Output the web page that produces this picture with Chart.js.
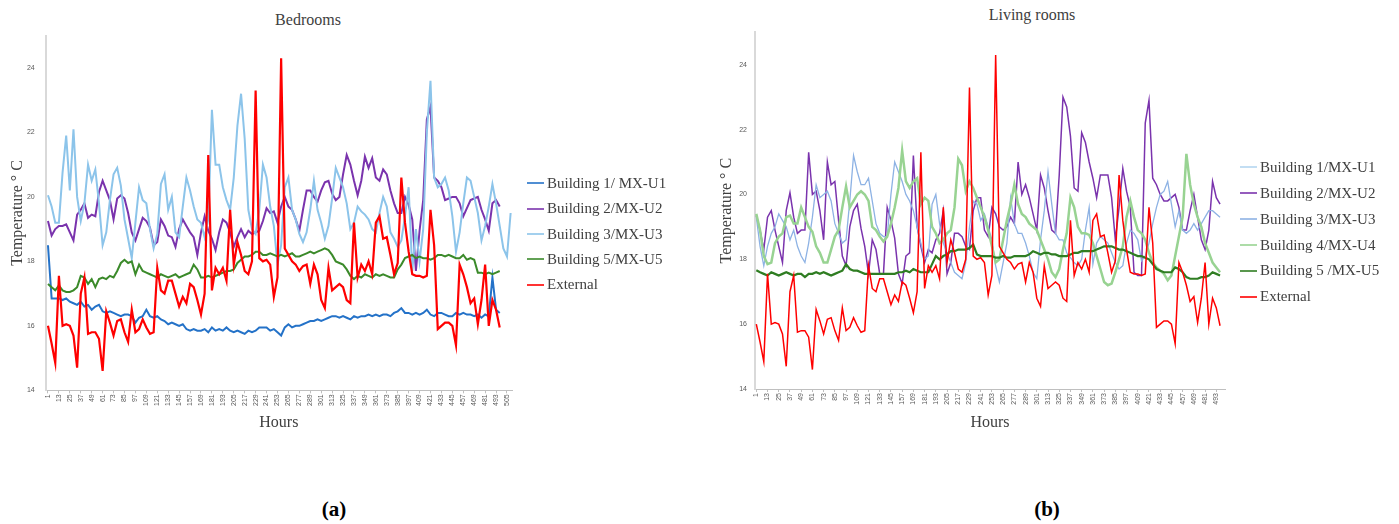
<!DOCTYPE html>
<html>
<head>
<meta charset="utf-8">
<script src="https://cdn.jsdelivr.net/npm/chart.js@4.4.1/dist/chart.umd.min.js"></script>
<style>
  body { margin: 0; width: 1399px; height: 524px; background: #fff; position: relative; overflow: hidden; }
  .box { position: absolute; top: 0; height: 440px; }
  .ttl { position: absolute; font: 16px "Liberation Serif", serif; color: #404040; transform: translateX(-50%); white-space: nowrap; }
  .panel { position: absolute; font: bold 21px "Liberation Serif", serif; color: #000; transform: translateX(-50%); }
  .legend { position: absolute; font: 15px "Liberation Serif", serif; color: #404040; }
  .legend .item { display: flex; align-items: center; white-space: nowrap; }
  .legend .swatch { display: inline-block; width: 17px; height: 0; border-top: 2px solid; margin-right: 3px; opacity: 0.8; }
</style>
</head>
<body>
<div class="ttl" style="left:308px; top:11px;">Bedrooms</div>
<div class="ttl" style="left:1032px; top:6px;">Living rooms</div>
<div class="box" style="left:0; width:700px;"><canvas id="bedrooms"></canvas></div>
<div class="box" style="left:700px; width:699px;"><canvas id="living"></canvas></div>
<div class="legend" id="bedLegend" style="left:527px; top:170.6px;"></div>
<div class="legend" id="livLegend" style="left:1240px; top:154.4px;"></div>
<div class="panel" style="left:334px; top:497px;">(a)</div>
<div class="panel" style="left:1047px; top:497px;">(b)</div>

<script>
// hours sampled every 4 h
const hours = [
  1, 5, 9, 13, 17, 21, 25, 29, 33, 37, 41, 45, 49, 53, 57, 61,
  65, 69, 73, 77, 81, 85, 89, 93, 97, 101, 105, 109, 113, 117, 121, 125,
  129, 133, 137, 141, 145, 149, 153, 157, 161, 165, 169, 173, 177, 181, 185, 189,
  193, 197, 201, 205, 209, 213, 217, 221, 225, 229, 233, 237, 241, 245, 249, 253,
  257, 261, 265, 269, 273, 277, 281, 285, 289, 293, 297, 301, 305, 309, 313, 317,
  321, 325, 329, 333, 337, 341, 345, 349, 353, 357, 361, 365, 369, 373, 377, 381,
  385, 389, 393, 397, 401, 405, 409, 413, 417, 421, 425, 429, 433, 437, 441, 445,
  449, 453, 457, 461, 465, 469, 473, 477, 481, 485, 489, 493, 497, 501, 505, 509
];

const bedTicks = [1, 13, 25, 37, 49, 61, 73, 85, 97, 109, 121, 133, 145, 157, 169, 181, 193, 205, 217, 229, 241, 253,
  265, 277, 289, 301, 313, 325, 337, 349, 361, 373, 385, 397, 409, 421, 433, 445, 457, 469, 481, 493, 505];
const livTicks = [1, 13, 25, 37, 49, 61, 73, 85, 97, 109, 121, 133, 145, 157, 169, 181, 193, 205, 217, 229, 241, 253,
  265, 277, 289, 301, 313, 325, 337, 349, 361, 373, 385, 397, 409, 421, 433, 445, 457, 469, 481, 493];
const tempTicks = [14, 16, 18, 20, 22, 24];

// Bedrooms (°C)
const bedB1 = [
  18.5, 16.85, 16.85, 16.85, 16.8, 16.85, 16.75, 16.7, 16.65, 16.75, 16.6, 16.65,
  16.5, 16.6, 16.65, 16.45, 16.4, 16.45, 16.4, 16.35, 16.3, 16.35, 16.35, 16.3,
  16.1, 16.25, 16.3, 16.5, 16.3, 16.25, 16.3, 16.2, 16.15, 16.05, 16.1, 16.05,
  16.0, 16.05, 15.9, 15.85, 15.9, 15.85, 15.85, 15.9, 15.8, 15.95, 15.85, 15.9,
  15.85, 15.95, 15.85, 15.8, 15.85, 15.8, 15.75, 15.85, 15.8, 15.85, 15.95, 15.95,
  15.95, 15.85, 15.9, 15.8, 15.7, 15.95, 16.05, 15.95, 16.0, 16.0, 16.05, 16.1,
  16.15, 16.15, 16.2, 16.15, 16.2, 16.25, 16.3, 16.3, 16.25, 16.3, 16.25, 16.2,
  16.3, 16.25, 16.3, 16.3, 16.35, 16.3, 16.35, 16.3, 16.35, 16.35, 16.3, 16.4,
  16.45, 16.55, 16.4, 16.4, 16.35, 16.4, 16.35, 16.4, 16.5, 16.35, 16.3, 16.4,
  16.4, 16.35, 16.3, 16.3, 16.4, 16.35, 16.4, 16.35, 16.35, 16.3, 16.35, 16.25,
  16.35, 16.3, 17.5, 16.5, 16.4, null, null, null
];
const bedB2 = [
  19.25, 18.8, 19.0, 19.1, 19.1, 19.15, 18.9, 18.65, 19.45, 19.6, 19.8, 19.35,
  19.45, 19.4, 20.15, 20.5, 20.2, 19.9, 19.3, 19.95, 20.05, 19.95, 19.5, 18.9,
  18.65, 19.0, 19.35, 19.25, 19.05, 18.5, 18.6, 19.3, 19.1, 18.8, 18.75, 18.45,
  19.0, 19.3, 19.1, 18.9, 18.75, 18.2, 18.9, 19.4, 18.95, 18.7, 18.35, 18.9,
  19.3, 19.2, 18.9, 18.45, 18.75, 19.0, 18.75, 18.95, 18.85, 18.9, 18.95, 19.25,
  19.65, 19.5, 19.55, 19.2, 19.7, 20.0, 19.7, 19.6, 19.3, 18.95, 19.6, 20.2,
  20.2, 20.0, 19.85, 20.2, 20.45, 20.5, 20.1, 19.9, 20.0, 20.7, 21.3, 21.0,
  20.5, 20.05, 20.5, 21.25, 20.9, 21.2, 20.6, 20.5, 20.85, 20.7, 20.2, 19.8,
  19.5, 19.5, 20.0, 19.75, 19.3, 17.7, 18.95, 19.9, 22.4, 22.8, 20.6, 20.5,
  20.3, 19.9, 19.95, 20.0, 20.0, 19.8, 19.4, 19.65, 19.9, 19.95, 20.0, 19.6,
  19.3, 18.95, 19.8, 19.9, 19.7, null, null, null
];
const bedB3 = [
  20.05, 19.7, 19.2, 19.2, 20.75, 21.9, 20.2, 22.1, 20.0, 19.25, 19.8, 21.0,
  20.5, 20.85, 19.8, 18.5, 18.9, 19.9, 20.7, 20.9, 20.35, 19.3, 18.7, 18.1,
  19.2, 20.3, 19.9, 19.8, 19.0, 18.4, 18.85, 20.4, 20.7, 19.6, 20.0, 18.9,
  18.75, 19.7, 20.6, 20.2, 19.7, 19.3, 19.2, 18.75, 19.3, 22.7, 21.0, 21.0,
  20.3, 19.9, 19.6, 20.6, 22.2, 23.2, 21.8, 19.6, 19.0, 18.85, 19.6, 21.0,
  20.6, 19.7, 19.1, 17.9, 18.5, 20.3, 20.6, 19.6, 19.3, 18.85, 18.6, 18.9,
  19.6, 20.5, 19.6, 19.2, 18.7, 19.1, 19.95, 20.9, 20.6, 20.3, 19.8, 19.0,
  19.2, 19.7, 19.55, 19.45, 19.3, 19.0, 18.9, 19.5, 20.0, 19.7, 18.9, 18.7,
  18.45, 18.65, 19.4, 20.3, 17.7, 19.0, 18.0, 19.0, 22.0, 23.6, 20.6, 20.3,
  20.4, 20.6, 20.2, 19.4, 18.3, 18.9, 19.8, 20.6, 20.5, 20.0, 19.5, 18.65,
  19.1, 19.7, 20.4, 19.8, 19.1, 18.4, 18.15, 19.5
];
const bedB5 = [
  17.3, 17.2, 17.1, 17.25, 17.1, 17.05, 17.05, 17.1, 17.2, 17.55, 17.5, 17.3,
  17.45, 17.2, 17.45, 17.5, 17.45, 17.55, 17.5, 17.7, 17.95, 18.05, 17.95, 18.0,
  17.6, 17.9, 17.7, 17.65, 17.6, 17.55, 17.5, 17.6, 17.55, 17.5, 17.55, 17.6,
  17.5, 17.55, 17.6, 17.65, 17.9, 17.75, 17.5, 17.5, 17.55, 17.5, 17.55, 17.6,
  17.65, 17.7, 17.7, 17.75, 17.95, 18.05, 18.15, 18.15, 18.2, 18.3, 18.3, 18.2,
  18.2, 18.25, 18.2, 18.15, 18.2, 18.15, 18.2, 18.25, 18.15, 18.15, 18.2, 18.25,
  18.3, 18.25, 18.3, 18.35, 18.4, 18.35, 18.2, 18.0, 17.95, 17.9, 17.75, 17.55,
  17.45, 17.55, 17.5, 17.6, 17.55, 17.5, 17.6, 17.55, 17.6, 17.55, 17.5, 17.5,
  17.75, 17.9, 18.1, 18.15, 18.2, 18.1, 18.15, 18.1, 18.1, 18.05, 18.1, 18.2,
  18.2, 18.15, 18.2, 18.15, 18.1, 18.1, 18.2, 18.05, 18.1, 18.05, 17.65, 17.65,
  17.6, 17.65, 17.6, 17.65, 17.7, null, null, null
];
// outdoor temperature, same record in both panels
const external = [
  16.0, 15.45, 14.85, 17.55, 16.0, 16.05, 16.0, 15.7, 14.7, 17.0, 17.5, 15.75,
  15.8, 15.8, 15.6, 14.6, 16.45, 16.1, 15.7, 16.15, 16.2, 15.8, 15.5, 16.5,
  15.8, 15.9, 16.2, 15.95, 15.75, 15.8, 17.8, 17.1, 17.0, 17.4, 17.4, 17.0,
  16.6, 16.9, 16.7, 17.3, 17.2, 16.8, 16.35, 17.0, 21.3, 17.1, 17.8, 17.6,
  17.8, 17.4, 19.6, 17.9, 18.6, 18.2, 17.7, 17.6, 18.0, 23.3, 18.1, 18.0,
  18.05, 17.9, 16.9, 17.5, 24.3, 18.4, 18.2, 18.0, 17.9, 17.7, 17.85, 17.9,
  17.3, 17.9, 17.6, 16.8, 16.55, 17.8, 17.1, 17.2, 17.3, 17.2, 16.8, 16.7,
  19.2, 17.5, 17.9, 17.7, 18.0, 17.6, 19.2, 19.4, 18.7, 18.75, 18.2, 17.6,
  17.95, 20.6, 19.2, 18.3, 17.6, 17.55, 17.55, 17.5, 17.55, 19.6, 18.5, 15.9,
  16.0, 16.1, 16.1, 16.0, 15.4, 17.9, 17.6, 17.2, 16.7, 16.85, 16.05, 16.8,
  17.9, 16.0, 16.8, 16.5, 15.95, null, null, null
];

// Living rooms (°C), hours 1..497
const livB1 = []; // listed in the legend, no visible trace
const livB2 = [
  19.35, 18.9, 18.3, 19.3, 19.5, 18.9, 18.4, 17.9, 19.5, 20.05, 19.3, 18.8,
  18.9, 18.9, 21.3, 20.0, 20.1, 19.5, 18.6, 21.0, 20.3, 20.4, 19.2, 18.1,
  17.8, 19.0, 19.5, 19.7, 18.95, 18.4, 17.55, 18.6, 18.3, 17.55, 17.55, 19.6,
  19.2, 18.65, 17.55, 17.25, 18.1, 18.2, 21.2, 19.0, 18.4, 17.9, 18.3, 18.2,
  18.6, 18.8, 19.5, 17.55, 17.9, 18.8, 18.8, 18.7, 18.4, 18.3, 19.5, 19.9,
  19.9, 18.9, 18.7, 19.6, 19.4, 19.0, 18.9, 19.0, 19.3, 19.1, 21.0, 20.0,
  20.3, 19.9, 19.4, 18.9, 20.6, 20.2, 19.5, 18.9, 18.8, 20.6, 23.0, 22.7,
  21.8, 20.2, 20.1, 21.9, 21.6, 21.0, 20.5, 19.9, 20.6, 20.6, 20.6, 19.9,
  18.6, 19.6, 20.8, 20.1, 19.6, 17.6, 17.5, 17.5, 22.2, 22.9, 20.5, 20.3,
  20.0, 19.8, 19.8, 19.9, 20.0, 19.6, 18.9, 18.9, 19.5, 20.0, 19.3, 18.6,
  18.3, 18.9, 20.4, 19.9, 19.7
];
const livB3 = [
  19.3, 18.4, 17.8, 18.4, 18.8, 19.0, 19.4, 19.2, 19.0, 18.6, 18.9, 18.4,
  18.1, 17.9, 18.5, 19.3, 20.3, 19.9, 20.0, 20.1, 19.8, 19.1, 18.8, 18.5,
  18.6, 19.8, 21.2, 20.7, 20.3, 20.3, 20.5, 19.8, 19.1, 18.8, 18.7, 18.7,
  20.0, 21.0, 20.7, 20.4, 20.0, 19.8, 19.5, 19.0, 18.5, 18.0, 18.1, 19.7,
  20.0, 19.1, 18.5, 18.2, 17.9, 17.6, 17.5, 17.4, 17.9, 19.0, 19.8, 19.7,
  19.2, 19.4, 19.0, 18.6, 17.8, 17.3, 17.9, 18.5, 19.9, 19.1, 18.8, 18.8,
  18.5, 18.1, 17.6, 17.4, 18.6, 19.5, 20.7, 19.7, 18.8, 18.6, 18.6, 18.2,
  18.05, 17.9, 17.8, 18.0, 18.9, 19.6, 17.85, 18.5, 18.7, 18.6, 18.5, 18.2,
  17.9, 17.7, 17.8, 18.5, 18.9, 18.8, 18.6, 17.95, 18.1, 18.5, 19.1, 19.6,
  20.0, 20.1, 20.4, 19.7, 19.0, 19.5, 18.9, 18.8, 18.9, 19.1, 18.9, 19.1,
  19.3, 19.5, 19.5, 19.4, 19.3
];
const livB4 = [
  19.4, 18.9, 18.1, 17.85, 17.9, 18.5, 18.7, 18.8, 19.3, 19.35, 19.1, 19.1,
  19.6, 19.3, 19.0, 18.85, 18.4, 18.2, 17.9, 17.9, 18.3, 18.7, 18.9, 19.6,
  20.25, 19.6, 19.8, 20.0, 20.1, 20.0, 19.8, 19.0, 18.9, 18.7, 18.55, 18.7,
  19.1, 19.6, 20.2, 21.35, 20.4, 20.2, 20.4, 20.5, 19.7, 19.9, 19.8, 19.0,
  18.8, 18.5, 18.6, 18.8, 18.9, 19.6, 21.1, 20.9, 20.1, 20.4, 20.2, 19.9,
  19.6, 19.3, 18.9, 18.4, 17.9, 18.0, 18.6, 19.2, 19.7, 20.3, 19.7, 19.4,
  19.3, 19.1, 19.0, 18.9, 18.6, 18.3, 18.0, 17.6, 17.45, 17.7, 18.3, 18.8,
  19.9, 19.6, 19.0, 18.8, 18.8, 18.75, 18.5, 18.1, 17.7, 17.3, 17.2, 17.25,
  17.6, 18.0, 18.4, 19.3, 19.8, 19.3, 18.9, 18.8, 18.6, 18.2, 17.9, 17.75,
  17.65, 17.55, 17.35, 17.5, 18.1, 18.7, 19.3, 21.25, 20.3, 19.7, 19.3, 19.0,
  18.5, 18.2, 17.9, 17.75, 17.6
];
const livB5 = [
  17.66, 17.6, 17.55, 17.5, 17.6, 17.55, 17.5, 17.55, 17.6, 17.55, 17.5, 17.55,
  17.55, 17.45, 17.55, 17.55, 17.6, 17.55, 17.6, 17.55, 17.5, 17.55, 17.6, 17.65,
  17.85, 17.7, 17.65, 17.65, 17.6, 17.55, 17.55, 17.55, 17.55, 17.55, 17.55, 17.55,
  17.55, 17.55, 17.6, 17.6, 17.65, 17.6, 17.7, 17.65, 17.6, 17.6, 17.6, 17.85,
  18.1, 18.0, 18.1, 18.15, 18.25, 18.25, 18.3, 18.3, 18.3, 18.35, 18.45, 18.15,
  18.1, 18.1, 18.1, 18.1, 18.05, 18.05, 18.1, 18.05, 18.05, 18.1, 18.1, 18.1,
  18.1, 18.15, 18.25, 18.2, 18.15, 18.2, 18.2, 18.15, 18.15, 18.1, 18.1, 18.1,
  18.15, 18.2, 18.2, 18.25, 18.25, 18.25, 18.25, 18.3, 18.35, 18.4, 18.4, 18.4,
  18.35, 18.3, 18.3, 18.25, 18.2, 18.15, 18.1, 18.1, 18.05, 18.0, 17.85, 17.7,
  17.65, 17.6, 17.6, 17.6, 17.75, 17.7, 17.6, 17.45, 17.4, 17.4, 17.4, 17.45,
  17.45, 17.5, 17.6, 17.55, 17.5
];

const bedSets = [
  { label: 'Building 1/ MX-U1', values: bedB1, color: '#2472c8', width: 2 },
  { label: 'Building 2/MX-U2', values: bedB2, color: '#7a33ad', width: 2 },
  { label: 'Building 3/MX-U3', values: bedB3, color: '#8cc4ea', width: 2 },
  { label: 'Building 5/MX-U5', values: bedB5, color: '#3b8a2a', width: 2 },
  { label: 'External', values: external, color: '#ff0000', width: 2.2 }
];
const livSets = [
  { label: 'Building 1/MX-U1', values: livB1, color: '#b4d6f0', width: 1.3 },
  { label: 'Building 2/MX-U2', values: livB2, color: '#7a33ad', width: 1.5 },
  { label: 'Building 3/MX-U3', values: livB3, color: '#8db2e4', width: 1.3 },
  { label: 'Building 4/MX-U4', values: livB4, color: '#98d392', width: 2.5 },
  { label: 'Building 5 /MX-U5', values: livB5, color: '#2f7d22', width: 2.2 },
  { label: 'External', values: external.slice(0, livB2.length), color: '#ff0000', width: 1.5 }
];

function makeChart(id, sets, xTicks, box) {
  const serif = { family: 'Liberation Serif', size: 16 };
  const small = { family: 'Liberation Sans', size: 7 };
  return new Chart(document.getElementById(id), {
    type: 'line',
    data: {
      datasets: sets.map((s, i) => ({
        label: s.label,
        data: s.values.map((v, j) => ({ x: hours[j], y: v })),
        borderColor: s.color,
        borderWidth: s.width,
        pointRadius: 0,
        tension: 0,
        fill: false,
        order: sets.length - i   // later series drawn on top, like Excel
      }))
    },
    options: {
      responsive: true,
      maintainAspectRatio: false,
      animation: false,
      layout: { padding: { left: 0, top: box.top, right: box.right, bottom: 0 } },
      plugins: { legend: { display: false }, tooltip: { enabled: false } },
      scales: {
        x: {
          type: 'linear', min: box.xMin, max: box.xMax,
          afterBuildTicks: s => { s.ticks = xTicks.map(v => ({ value: v })); },
          afterFit: s => { s.height = box.xHeight; },
          grid: { drawOnChartArea: false, tickLength: 3, color: '#bfbfbf' },
          border: { color: '#bfbfbf', width: 1 },
          ticks: { autoSkip: false, minRotation: 90, maxRotation: 90, padding: 1,
                   color: '#595959', font: small, callback: v => String(v) },
          title: { display: true, text: 'Hours', color: '#404040', font: serif,
                   padding: { top: 0, bottom: 8 } }
        },
        y: {
          min: 14, max: 25,
          afterBuildTicks: s => { s.ticks = tempTicks.map(v => ({ value: v })); },
          afterFit: s => { s.width = box.yWidth; },
          grid: { display: false, drawTicks: false },
          border: { color: '#d9d9d9', width: 2 },
          ticks: { padding: box.tickPad, color: '#595959', font: small },
          title: { display: true, text: 'Temperature ° C', color: '#404040', font: serif,
                   padding: { top: box.titlePad, bottom: 0 } }
        }
      }
    }
  });
}

function makeLegend(id, sets, rowH) {
  const el = document.getElementById(id);
  sets.forEach(s => {
    const row = document.createElement('div');
    row.className = 'item';
    row.style.height = rowH + 'px';
    const sw = document.createElement('span');
    sw.className = 'swatch';
    sw.style.borderColor = s.color;
    row.appendChild(sw);
    row.appendChild(document.createTextNode(s.label));
    el.appendChild(row);
  });
}

makeChart('bedrooms', bedSets, bedTicks,
  { top: 35.7, right: 188, yWidth: 45.7, xHeight: 49.7, xMin: -1.5, xMax: 510.5, tickPad: 11, titlePad: 8.4 });
makeChart('living', livSets, livTicks,
  { top: 32.3, right: 174, yWidth: 55, xHeight: 51, xMin: -0.4, xMax: 502.3, tickPad: 8, titlePad: 17.4 });

makeLegend('bedLegend', bedSets, 25.4);
makeLegend('livLegend', livSets, 25.9);
</script>
</body>
</html>
